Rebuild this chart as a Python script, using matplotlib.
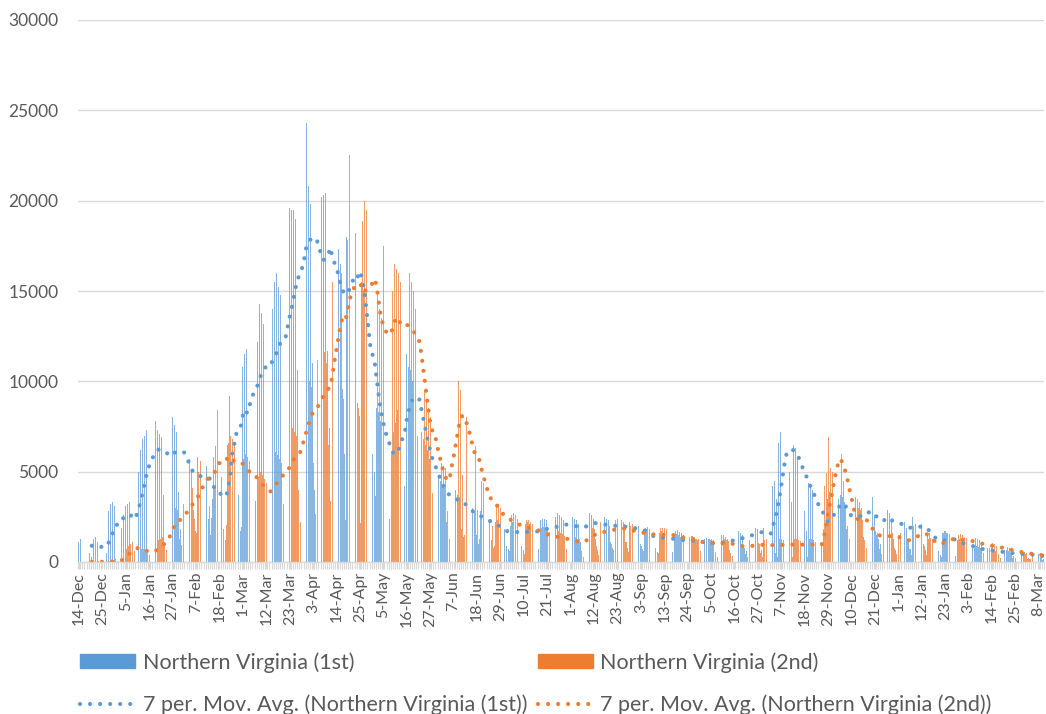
import matplotlib
matplotlib.use("Agg")
import matplotlib.pyplot as plt
import matplotlib.ticker as ticker
from matplotlib.patches import Patch
from matplotlib.lines import Line2D
import numpy as np
import pandas as pd

tick_labels = ["14-Dec", "25-Dec", "5-Jan", "16-Jan", "27-Jan", "7-Feb", "18-Feb",
               "1-Mar", "12-Mar", "23-Mar", "3-Apr", "14-Apr", "25-Apr", "5-May",
               "16-May", "27-May", "7-Jun", "18-Jun", "29-Jun", "10-Jul", "21-Jul",
               "1-Aug", "12-Aug", "23-Aug", "3-Sep", "13-Sep", "24-Sep", "5-Oct",
               "16-Oct", "27-Oct", "7-Nov", "18-Nov", "29-Nov", "10-Dec", "21-Dec",
               "1-Jan", "12-Jan", "23-Jan", "3-Feb", "14-Feb", "25-Feb", "8-Mar"]

# daily doses, one row per week
first_dose = [
    1100, 1300, 1200, 1000, 900, 500, 300,
    1300, 1400, 1100, 700, 200, 1000, 500,
    2800, 3200, 3300, 3100, 600, 2200, 1900,
    2600, 3100, 3200, 3300, 3300, 1500, 1200,
    5000, 6200, 6800, 7000, 7300, 3900, 2300,
    7900, 7800, 7300, 7100, 6900, 3700, 2000,
    6400, 7800, 8000, 7600, 7200, 3900, 1800,
    6500, 6800, 6000, 5700, 5000, 2900, 1700,
    5800, 6200, 5600, 5400, 5300, 2400, 1500,
    3500, 4200, 4600, 5200, 4700, 1800, 1200,
    6500, 9200, 13200, 9400, 8800, 3700, 1700,
    10800, 11500, 11800, 12200, 11000, 6500, 3400,
    12200, 14300, 13800, 13200, 12700, 7000, 3100,
    14000, 15500, 16000, 15200, 14800, 7600, 3700,
    18200, 19600, 19500, 19500, 19000, 10600, 5600,
    20500, 23500, 24300, 20800, 19800, 11000, 4000,
    20800, 21000, 20200, 20300, 20400, 11700, 7400,
    17500, 18500, 18200, 17300, 16500, 9600, 6000,
    18000, 19900, 20200, 19500, 18200, 8800, 8100,
    15500, 15000, 13200, 11500, 10800, 6000, 5000,
    8500, 8300, 7800, 7500, 7200, 3800, 2400,
    6000, 7200, 7700, 8400, 10200, 6000, 4200,
    11500, 10800, 10600, 10000, 9200, 6100, 4800,
    7200, 6800, 6500, 6200, 5700, 3000, 3100,
    4600, 4800, 4500, 4200, 4100, 2200, 1500,
    4400, 4200, 4000, 3700, 3600, 1800, 1400,
    3300, 3400, 3200, 3000, 2800, 1500, 1000,
    2800, 2900, 2700, 2600, 2400, 1200, 800,
    2200, 2300, 2100, 1900, 1800, 900, 700,
    2000, 2200, 2100, 1900, 1800, 900, 650,
    2100, 2200, 2100, 2000, 1900, 900, 700,
    2300, 2400, 2400, 2300, 2100, 1100, 700,
    2500, 2700, 2600, 2500, 2300, 1200, 700,
    2400, 2500, 2400, 2300, 2100, 1100, 700,
    2600, 2800, 2700, 2600, 2400, 1300, 650,
    2500, 2600, 2500, 2400, 2300, 1100, 750,
    2400, 2500, 2400, 2300, 2200, 1100, 750,
    2200, 2300, 2300, 2100, 2000, 1000, 700,
    1700, 1800, 1700, 1600, 1500, 800, 560,
    1600, 1700, 1600, 1500, 1400, 700, 530,
    1500, 1550, 1500, 1400, 1300, 650, 500,
    1400, 1450, 1400, 1300, 1200, 600, 490,
    1300, 1350, 1250, 1200, 1100, 500, 440,
    1400, 1500, 1500, 1400, 1300, 650, 510,
    1600, 1700, 1700, 1600, 1500, 750, 600,
    2000, 2100, 2100, 1900, 1800, 1000, 650,
    1900, 2000, 1800, 1700, 4200, 4500, 3500,
    6600, 7200, 7400, 7100, 6800, 5000, 3300,
    6500, 6300, 5800, 5200, 4600, 2800, 1700,
    4400, 4300, 4000, 3400, 2300, 1600, 1000,
    1800, 2000, 3500, 3900, 3600, 2800, 1650,
    3500, 3700, 3600, 3300, 1800, 1300, 700,
    3400, 3600, 3500, 3300, 3000, 1400, 700,
    3700, 3800, 3600, 2600, 1500, 1300, 1000,
    2800, 3000, 2900, 2700, 2400, 1300, 650,
    2600, 2500, 2300, 2200, 1900, 1100, 700,
    2500, 2600, 2500, 2300, 2100, 1000, 650,
    1500, 1600, 1500, 1400, 1300, 600, 360,
    1600, 1700, 1600, 1500, 1400, 600, 350,
    1200, 1250, 1200, 1100, 1000, 450, 310,
    900, 950, 900, 850, 750, 300, 250,
    750, 800, 750, 700, 600, 250, 210,
    640, 680, 640, 600, 500, 200, 170,
    550, 580, 550, 500, 430, 170, 160,
    480, 500, 450, 420, 260, 120,
]

second_dose = [
    0, 0, 0, 0, 10, 0, 0,
    10, 20, 30, 20, 0, 10, 10,
    40, 60, 100, 150, 50, 150, 150,
    500, 700, 900, 1000, 1100, 600, 520,
    600, 700, 700, 600, 500, 400, 280,
    900, 1000, 1200, 1300, 1400, 900, 650,
    2300, 2800, 3200, 3000, 2900, 1300, 950,
    3200, 3900, 4300, 4200, 4100, 2400, 1630,
    5000, 5600, 5900, 5800, 5600, 3100, 2460,
    5800, 6400, 8400, 6600, 6300, 4000, 2050,
    6600, 7000, 6800, 6500, 6300, 3700, 1950,
    5700, 6000, 5800, 5600, 5300, 2900, 1950,
    4700, 5000, 4800, 4600, 4400, 2400, 1470,
    5800, 6100, 5900, 5700, 5500, 3200, 1750,
    7200, 7600, 7400, 7200, 7000, 4000, 2230,
    9800, 10500, 10300, 10000, 9700, 5500, 2650,
    11200, 12000, 12000, 11600, 11000, 6500, 3390,
    15500, 17500, 17000, 16500, 16000, 9000, 2300,
    17800, 22500, 19800, 18500, 17500, 8500, 2150,
    18900, 20000, 19500, 19200, 18500, 10000, 3660,
    15000, 14000, 13500, 17500, 16000, 8500, 5100,
    15000, 16500, 16200, 16000, 15500, 8500, 3720,
    15500, 16000, 15500, 15000, 14000, 7000, 2400,
    9800, 9500, 9000, 8500, 8000, 3800, 1800,
    5600, 5800, 5500, 5300, 5200, 2800, 1300,
    10600, 9800, 10500, 10000, 9500, 4800, 1500,
    8000, 7500, 7000, 6800, 6400, 2900, 1300,
    4500, 4400, 4200, 4000, 3800, 2000, 900,
    3100, 3200, 3000, 2900, 2700, 1300, 600,
    2600, 2700, 2600, 2400, 2300, 1100, 440,
    2300, 2300, 2200, 2100, 2000, 900, 450,
    1900, 1950, 1850, 1750, 1650, 800, 320,
    1650, 1700, 1600, 1550, 1450, 700, 310,
    1400, 1450, 1400, 1300, 1250, 600, 300,
    1800, 2000, 2000, 1900, 1800, 900, 380,
    2200, 2300, 2200, 2100, 2000, 1000, 660,
    2300, 2400, 2300, 2200, 2100, 1100, 550,
    2000, 2100, 2000, 1950, 1800, 900, 590,
    1900, 1950, 1850, 1800, 1700, 800, 500,
    1900, 1900, 1900, 1800, 1700, 800, 500,
    1700, 1750, 1650, 1600, 1500, 700, 410,
    1400, 1450, 1400, 1300, 1250, 600, 300,
    1350, 1400, 1300, 1250, 1200, 550, 300,
    1300, 1350, 1250, 1200, 1150, 500, 320,
    1100, 1150, 1100, 1000, 950, 450, 270,
    1200, 1250, 1200, 1150, 1050, 500, 300,
    1200, 1250, 1150, 1100, 1050, 500, 260,
    1250, 1300, 1200, 1150, 1100, 500, 290,
    1250, 1250, 1200, 1150, 1100, 500, 270,
    1250, 1250, 1200, 1100, 800, 600, 450,
    4200, 4900, 6900, 5200, 5000, 5300, 4200,
    7400, 6000, 4500, 3000, 2000, 1300, 1000,
    3100, 3200, 3000, 2900, 2300, 1200, 750,
    1900, 1950, 1800, 1700, 1600, 700, 430,
    1900, 1900, 1800, 1700, 1600, 800, 450,
    1500, 1600, 1500, 1400, 1300, 700, 400,
    2000, 2100, 2000, 1900, 1800, 900, 360,
    1300, 1350, 1250, 1200, 1100, 500, 300,
    1600, 1700, 1600, 1550, 1450, 700, 360,
    1500, 1550, 1500, 1400, 1350, 650, 310,
    1300, 1350, 1250, 1200, 1100, 500, 300,
    1050, 1100, 1050, 1000, 900, 420, 220,
    850, 880, 820, 780, 700, 320, 200,
    600, 640, 600, 560, 500, 240, 150,
    500, 520, 480, 450, 400, 160,
]

series_names = ["Northern Virginia (1st)", "Northern Virginia (2nd)"]

BLUE = "#5B9BD5"
ORANGE = "#ED7D31"
GRID = "#D9D9D9"
TEXT = "#595959"

plt.rcParams["font.family"] = ["Lato", "DejaVu Sans"]

n = len(first_dose)
x = np.arange(n)

fig = plt.figure(figsize=(10.46, 7.14), dpi=100)
ax = fig.add_axes([78 / 1046, 1 - 562 / 714, 966 / 1046, 542 / 714])

ax.bar(x - 0.2, first_dose, width=0.3, color=BLUE, alpha=0.75, linewidth=0, zorder=2)
ax.bar(x + 0.2, second_dose, width=0.3, color=ORANGE, alpha=0.75, linewidth=0, zorder=2)

# Excel style 7 period moving average trendlines
dot = (0, (0.01, 2.4))
MA_LW = 3.0
ma1 = pd.Series(first_dose).rolling(7).mean()
ma2 = pd.Series(second_dose).rolling(7).mean()
ax.plot(x, ma1, color=BLUE, lw=MA_LW, linestyle=dot, dash_capstyle="round", zorder=3)
ax.plot(x, ma2, color=ORANGE, lw=MA_LW, linestyle=dot, dash_capstyle="round", zorder=3)

ax.set_xlim(-0.5, n - 0.5)
ax.set_ylim(0, 30000)
ax.yaxis.set_major_locator(ticker.MultipleLocator(5000))
ax.yaxis.grid(True, color=GRID, lw=1)
ax.set_axisbelow(True)

for s in ["left", "right", "top"]:
    ax.spines[s].set_visible(False)
ax.spines["bottom"].set_color(GRID)
ax.spines["bottom"].set_linewidth(1)
ax.spines["bottom"].set_zorder(4)

ax.set_xticks(np.arange(len(tick_labels)) * 11)
ax.set_xticklabels(tick_labels, rotation=90)
ax.xaxis.set_minor_locator(ticker.FixedLocator(np.arange(n + 1) - 0.5))
ax.tick_params(axis="x", which="both", length=5, color=GRID, width=0.8,
               labelsize=11.5, labelcolor=TEXT, pad=2)
ax.tick_params(axis="y", length=0, labelsize=12.5, labelcolor=TEXT, pad=14)

handles = [Patch(color=BLUE),
           Line2D([], [], color=BLUE, lw=MA_LW, linestyle=dot, dash_capstyle="round"),
           Patch(color=ORANGE),
           Line2D([], [], color=ORANGE, lw=MA_LW, linestyle=dot, dash_capstyle="round")]
labels = [series_names[0], "7 per. Mov. Avg. (" + series_names[0] + ")",
          series_names[1], "7 per. Mov. Avg. (" + series_names[1] + ")"]
fig.legend(handles, labels, loc="upper left", bbox_to_anchor=(76 / 1046, 1 - 648 / 714),
           ncol=2, frameon=False, fontsize=15.5, labelcolor=TEXT,
           handlelength=2.55, handleheight=0.6, handletextpad=0.35,
           columnspacing=0.5, labelspacing=1.0, borderaxespad=0, borderpad=0.2)

fig.savefig("out.png", dpi=100)
